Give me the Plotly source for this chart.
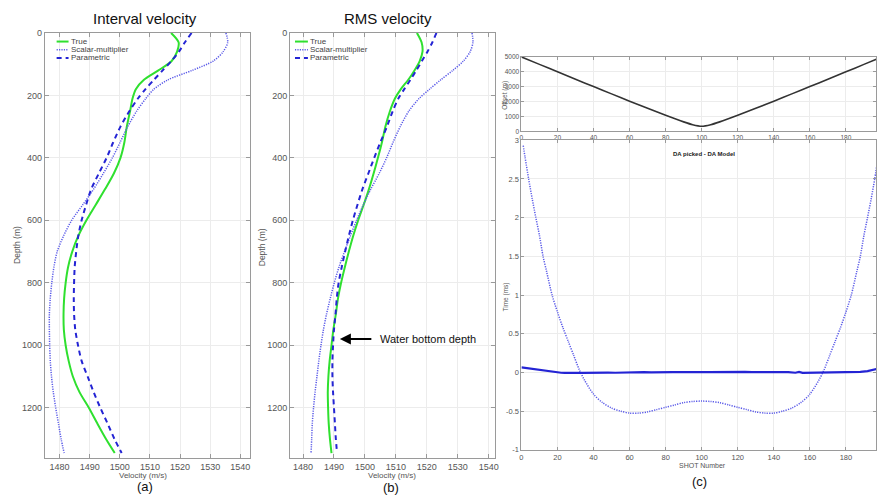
import plotly.graph_objects as go

# ---------------- data ----------------
depth = [0, 30, 60, 90, 120, 150, 180, 210, 250, 300, 350, 400, 450, 500, 550, 600,
         650, 700, 750, 800, 850, 900, 950, 1000, 1050, 1100, 1150, 1200, 1250, 1300, 1345]

# interval velocity (m/s)
int_true = [1517.0, 1519.5, 1519.0, 1517.2, 1512.8, 1508.0, 1505.3, 1504.2, 1503.4, 1502.3,
            1501.5, 1500.2, 1498.0, 1495.1, 1492.0, 1488.9, 1486.2, 1484.2, 1482.8, 1482.0,
            1481.5, 1481.3, 1481.4, 1482.0, 1483.0, 1484.4, 1486.6, 1489.7, 1492.5, 1495.4, 1498.3]
int_scalar = [1535.2, 1535.8, 1534.3, 1531.0, 1524.0, 1516.0, 1511.3, 1508.6, 1505.6, 1502.6,
              1500.1, 1497.5, 1494.5, 1491.3, 1487.7, 1484.0, 1481.3, 1479.2, 1478.1, 1477.4,
              1476.9, 1476.6, 1476.6, 1476.7, 1476.9, 1477.3, 1477.9, 1478.7, 1479.6, 1480.5, 1481.5]
int_param = [1523.8, 1521.6, 1519.6, 1517.1, 1514.2, 1511.3, 1508.5, 1506.0, 1503.2, 1500.2,
             1497.8, 1495.6, 1493.0, 1490.5, 1488.8, 1487.3, 1486.2, 1485.5, 1485.0, 1484.8,
             1484.7, 1484.8, 1485.2, 1486.1, 1487.3, 1489.3, 1491.3, 1493.5, 1495.9, 1498.2, 1500.6]

# RMS velocity (m/s)
rms_true = [1516.8, 1518.3, 1518.6, 1517.7, 1516.0, 1514.0, 1511.6, 1509.7, 1508.1, 1506.6,
            1505.5, 1504.2, 1502.8, 1501.3, 1499.6, 1497.8, 1496.2, 1494.8, 1493.5, 1492.3,
            1491.3, 1490.6, 1489.8, 1489.2, 1488.6, 1488.2, 1488.0, 1488.1, 1488.3, 1488.7, 1489.2]
rms_scalar = [1534.6, 1534.9, 1534.0, 1531.8, 1528.4, 1524.5, 1520.9, 1517.5, 1514.2, 1511.4,
              1509.1, 1507.0, 1504.6, 1501.9, 1499.5, 1497.3, 1495.3, 1493.4, 1491.6, 1490.1,
              1488.8, 1487.6, 1486.6, 1485.8, 1485.1, 1484.5, 1483.9, 1483.4, 1483.0, 1482.8, 1482.6]
rms_param = [1523.1, 1521.8, 1520.2, 1518.4, 1516.6, 1514.7, 1512.7, 1510.8, 1509.0, 1507.1,
             1505.0, 1503.0, 1501.1, 1499.2, 1497.6, 1496.1, 1494.8, 1493.6, 1492.5, 1491.5,
             1490.9, 1490.5, 1490.0, 1489.7, 1489.5, 1489.5, 1489.7, 1490.0, 1490.3, 1490.6, 1491.0]

# source-receiver offset per shot
offset_shot = [0, 10, 20, 30, 40, 50, 60, 70, 80, 90, 95, 100, 105, 110, 120, 130, 140, 150,
               160, 170, 180, 190, 197]
offset_m = [5000, 4500, 4000, 3500, 3010, 2520, 2030, 1550, 1080, 640, 450, 350, 450, 640,
            1080, 1550, 2030, 2520, 3010, 3500, 4000, 4500, 4850]

# DA picked - DA model, parametric (solid) and scalar-multiplier (dotted)
da_param_shot = [0, 2, 4, 6, 8, 10, 12, 14, 16, 18, 20, 22, 24, 26, 28, 30, 34, 38, 42, 46, 48,
                 52, 56, 60, 64, 68, 72, 76, 80, 84, 88, 92, 96, 100, 104, 108, 112, 116, 120,
                 124, 128, 132, 136, 140, 144, 148, 152, 154, 156, 160, 164, 168, 172, 176, 180,
                 184, 188, 192, 195, 197]
da_param_ms = [0.065, 0.058, 0.05, 0.045, 0.036, 0.03, 0.022, 0.016, 0.01, 0.005, 0.0, -0.004,
               -0.006, -0.003, -0.007, -0.004, -0.006, -0.003, -0.006, 0.006, -0.002, -0.004,
               0.0, 0.003, 0.001, 0.004, 0.002, 0.005, 0.003, 0.005, 0.003, 0.006, 0.004, 0.005,
               0.004, 0.006, 0.004, 0.007, 0.005, 0.008, 0.005, 0.006, 0.004, 0.005, 0.002,
               0.004, -0.004, 0.006, -0.006, -0.004, -0.007, -0.005, -0.006, -0.004, -0.002,
               0.003, 0.008, 0.018, 0.03, 0.045]
da_scalar_shot = [1, 2, 4, 6, 8, 10, 12, 14, 17, 20, 23, 26, 29, 32, 35, 40, 45, 50, 55, 60, 65,
                  70, 75, 80, 85, 90, 95, 100, 105, 110, 115, 120, 125, 130, 135, 140, 145, 150,
                  155, 160, 165, 168, 171, 174, 177, 180, 183, 186, 188, 190, 192, 194, 196, 197]
da_scalar_ms = [2.93, 2.78, 2.5, 2.24, 2.0, 1.77, 1.5, 1.3, 1.0, 0.78, 0.58, 0.4, 0.22, 0.04,
                -0.1, -0.28, -0.39, -0.46, -0.5, -0.525, -0.525, -0.51, -0.48, -0.45, -0.42,
                -0.39, -0.375, -0.37, -0.375, -0.39, -0.42, -0.45, -0.48, -0.51, -0.525, -0.525,
                -0.5, -0.46, -0.39, -0.28, -0.1, 0.04, 0.22, 0.4, 0.58, 0.78, 1.0, 1.3, 1.5, 1.77,
                2.0, 2.24, 2.5, 2.65]

vel_ticks = [1480, 1490, 1500, 1510, 1520, 1530, 1540]
depth_ticks = [0, 200, 400, 600, 800, 1000, 1200]

# ---------------- styles ----------------
W, H = 880, 497
FONT = "Liberation Sans, Arial, sans-serif"
GREEN = "#2fe02f"
SCALAR = "#5a5ae8"
PARAM = "#2424d4"
GRID = "#ececec"
AXLINE = "#9a9a9a"
TICKC = "#555555"
DOT = "1.2px,1.2px"


def px_x(p):
    return p / W


def px_y(p):
    return 1 - p / H


fig = go.Figure()

series = [
    ("x", "y", int_true, int_scalar, int_param),
    ("x2", "y2", rms_true, rms_scalar, rms_param),
]
for xa, ya, tr, sc, pa in series:
    fig.add_trace(go.Scatter(x=tr, y=depth, xaxis=xa, yaxis=ya, mode="lines",
                             line=dict(color=GREEN, width=2, shape="spline", smoothing=0.8),
                             showlegend=False))
    fig.add_trace(go.Scatter(x=sc, y=depth, xaxis=xa, yaxis=ya, mode="lines",
                             line=dict(color=SCALAR, width=1.5, dash=DOT,
                                       shape="spline", smoothing=0.8),
                             showlegend=False))
    fig.add_trace(go.Scatter(x=pa, y=depth, xaxis=xa, yaxis=ya, mode="lines",
                             line=dict(color=PARAM, width=2, dash="5px,4px",
                                       shape="spline", smoothing=0.8),
                             showlegend=False))

fig.add_trace(go.Scatter(x=offset_shot, y=offset_m, xaxis="x3", yaxis="y3", mode="lines",
                         line=dict(color="#333333", width=1.6, shape="spline", smoothing=0.6),
                         showlegend=False))
fig.add_trace(go.Scatter(x=da_scalar_shot, y=da_scalar_ms, xaxis="x4", yaxis="y4", mode="lines",
                         line=dict(color=SCALAR, width=1.5, dash=DOT,
                                   shape="spline", smoothing=0.8),
                         showlegend=False))
fig.add_trace(go.Scatter(x=da_param_shot, y=da_param_ms, xaxis="x4", yaxis="y4", mode="lines",
                         line=dict(color=PARAM, width=2.2), showlegend=False))

common = dict(showline=True, linecolor=AXLINE, linewidth=1, mirror="ticks", ticks="inside",
              ticklen=4, tickcolor=AXLINE, showgrid=True, gridcolor=GRID, zeroline=False,
              tickfont=dict(family=FONT, size=9, color=TICKC))


def small(size):
    return {**common, "tickfont": dict(family=FONT, size=size, color=TICKC), "ticklen": 3}


fig.update_layout(
    width=W, height=H, autosize=False,
    margin=dict(l=0, r=0, t=0, b=0),
    paper_bgcolor="white", plot_bgcolor="white",
    showlegend=False,
    xaxis=dict(domain=[px_x(43), px_x(250)], range=[1475.05, 1543.3], anchor="y",
               tickvals=vel_ticks, **common),
    yaxis=dict(domain=[px_y(462), px_y(28.5)], range=[1360, 0], anchor="x",
               tickvals=depth_ticks, **common),
    xaxis2=dict(domain=[px_x(290), px_x(496)], range=[1475.8, 1541.9], anchor="y2",
                tickvals=vel_ticks, **common),
    yaxis2=dict(domain=[px_y(462), px_y(28.5)], range=[1360, 0], anchor="x2",
                tickvals=depth_ticks, **common),
    xaxis3=dict(domain=[px_x(523), 1.0], range=[0, 196.7], anchor="y3",
                tickvals=list(range(0, 181, 20)), **small(6.5)),
    yaxis3=dict(domain=[px_y(129), px_y(53)], range=[0, 5000], anchor="x3",
                tickvals=[0, 1000, 2000, 3000, 4000, 5000], **small(6.5)),
    xaxis4=dict(domain=[px_x(523), 1.0], range=[0, 196.7], anchor="y4",
                tickvals=list(range(0, 181, 20)), **small(7.5)),
    yaxis4=dict(domain=[px_y(454), px_y(138)], range=[-1, 3], anchor="x4",
                tickvals=[-1, -0.5, 0, 0.5, 1, 1.5, 2, 2.5, 3],
                ticktext=["-1", "-0.5", "0", "0.5", "1", "1.5", "2", "2.5", "3"],
                **small(7.5)),
)

# ---------------- legends (drawn inside panels a and b) ----------------
legend_rows = [("True", GREEN, "solid", 2), ("Scalar-multiplier", SCALAR, DOT, 1.5),
               ("Parametric", PARAM, "5px,4px", 2)]
legend_y = [37.3, 45.7, 54.0]
shapes = []
annotations = []
for xa, ya, x0, x1, left, width in [("x", "y", 55, 67, 43, 207), ("x2", "y2", 295, 308, 290, 206)]:
    for (name, col, dash, lw), yy in zip(legend_rows, legend_y):
        yd = 1 - (yy - 28.5) / 433.5
        shapes.append(dict(type="line", xref=f"{xa} domain", yref=f"{ya} domain",
                           x0=(x0 - left) / width, x1=(x1 - left) / width, y0=yd, y1=yd,
                           line=dict(color=col, width=lw, dash=dash)))
        annotations.append(dict(xref=f"{xa} domain", yref=f"{ya} domain",
                                x=(x1 + 0.5 - left) / width, y=yd, xanchor="left", yanchor="middle",
                                text=name, showarrow=False,
                                font=dict(family=FONT, size=8, color="#444444")))


def label(text, x, y, size, color="#222222", angle=0, bold=False):
    annotations.append(dict(xref="paper", yref="paper", x=px_x(x), y=px_y(y),
                            xanchor="center", yanchor="middle", showarrow=False,
                            text=f"<b>{text}</b>" if bold else text, textangle=angle,
                            font=dict(family=FONT, size=size, color=color)))


label("Interval velocity", 144, 14, 15, "#111111")
label("RMS velocity", 389, 14, 15, "#111111")
label("Depth (m)", 15, 245, 8.5, "#555555", angle=-90)
label("Depth (m)", 262, 247, 8.5, "#555555", angle=-90)
label("Velocity (m/s)", 142, 480, 8, "#555555")
label("Velocity (m/s)", 393, 480, 8, "#555555")
label("(a)", 144, 491, 13, "#111111")
label("(b)", 392, 492, 13, "#111111")
label("(c)", 702, 486, 13, "#111111")
label("Offset (m)", 507, 92, 6.5, "#555555", angle=-90)
label("Time (ms)", 507, 298, 6.5, "#555555", angle=-90)
label("SHOT Number", 705, 470, 7, "#555555")
label("DA picked - DA Model", 707, 152, 6, "#222222", bold=True)

# water-bottom marker on the RMS panel
annotations.append(dict(xref="x2", yref="y2", x=1491.9, y=980, ax=33, ay=0, text="",
                        showarrow=True, arrowhead=2, arrowsize=1, arrowwidth=2.2,
                        arrowcolor="#000000"))
annotations.append(dict(xref="x2", yref="y2", x=1504.1, y=980, xanchor="left", yanchor="middle",
                        text="Water bottom depth", showarrow=False,
                        font=dict(family=FONT, size=11, color="#111111")))

fig.update_layout(shapes=shapes, annotations=annotations)

fig.write_html("out.html")
